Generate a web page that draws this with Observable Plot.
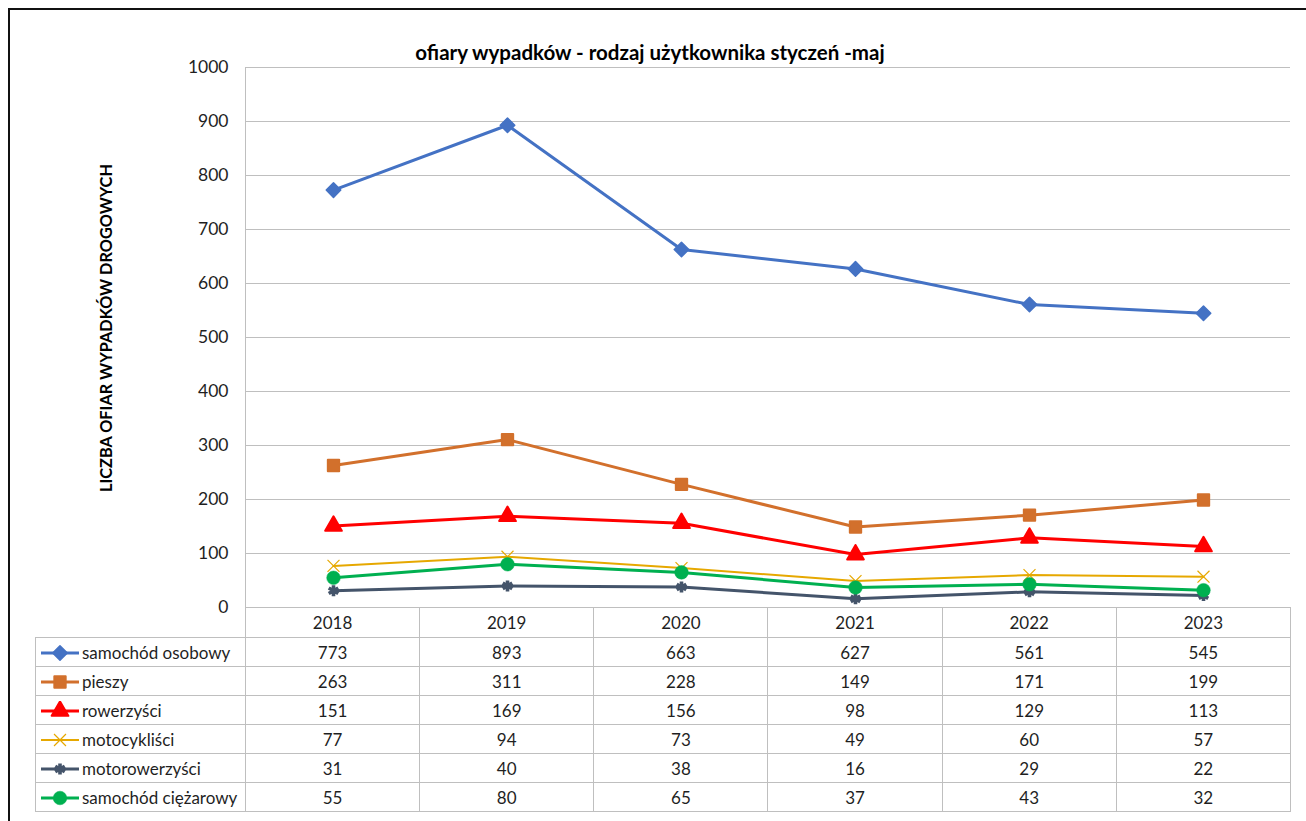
<!DOCTYPE html>
<html>
<head>
<meta charset="utf-8">
<script src="https://cdn.jsdelivr.net/npm/d3@7"></script>
<script src="https://cdn.jsdelivr.net/npm/@observablehq/plot@0.6"></script>
<style>
  html, body { margin: 0; padding: 0; background: #fff; }
  #wrap { position: relative; width: 1306px; height: 821px; overflow: hidden; background: #fff; font-family: Lato, "Open Sans", sans-serif; color: #262626; }
  #frame { position: absolute; left: 8px; top: 8px; width: 1400px; height: 900px; border-left: 2px solid #111; border-top: 2px solid #111; }
  #title { position: absolute; left: 0; width: 1300px; top: 40px; text-align: center; font-weight: bold; font-size: 20.5px; line-height: 24px; color: #000; }
  #ylabel { position: absolute; left: 105px; top: 328px; transform: translate(-50%, -50%) rotate(-90deg); white-space: nowrap; font-weight: bold; font-size: 16.3px; color: #000; }
  #chart { position: absolute; left: 0; top: 0; }
  #vaxis { position: absolute; left: 245px; top: 67px; width: 1px; height: 540px; background: #bfbfbf; }
  #tbl { position: absolute; left: 35px; top: 607px; border-collapse: collapse; table-layout: fixed; font-size: 17px; color: #1f1f1f; }
  #tbl td { border: 1px solid #bfbfbf; padding: 0; text-align: center; height: 28px; white-space: nowrap; }
  #tbl tr.head td { height: 29px; }
  #tbl tr.head td.corner { border-top: none; border-left: none; }
  #tbl td.leg { text-align: left; }
  #tbl td.leg svg { vertical-align: middle; }
  #tbl td.leg span { vertical-align: middle; }
</style>
</head>
<body>
<div id="wrap">
  <div id="frame"></div>
  <div id="chart"></div>
  <div id="vaxis"></div>
  <div id="title"></div>
  <div id="ylabel"></div>
  <table id="tbl"></table>
</div>
<script>
// ---- data ----
const titleText = "ofiary wypadków - rodzaj użytkownika styczeń -maj";
const yLabelText = "LICZBA OFIAR WYPADKÓW DROGOWYCH";
const years = ["2018", "2019", "2020", "2021", "2022", "2023"];
const seriesNames = ["samochód osobowy", "pieszy", "rowerzyści", "motocykliści", "motorowerzyści", "samochód ciężarowy"];
const samochodOsobowy = [773, 893, 663, 627, 561, 545];
const pieszy = [263, 311, 228, 149, 171, 199];
const rowerzysci = [151, 169, 156, 98, 129, 113];
const motocyklisci = [77, 94, 73, 49, 60, 57];
const motorowerzysci = [31, 40, 38, 16, 29, 22];
const samochodCiezarowy = [55, 80, 65, 37, 43, 32];
const yTicks = [0, 100, 200, 300, 400, 500, 600, 700, 800, 900, 1000];

// ---- styles per series ----
const seriesValues = [samochodOsobowy, pieszy, rowerzysci, motocyklisci, motorowerzysci, samochodCiezarowy];
const colors = ["#4472C4", "#D2702C", "#FF0000", "#E6A800", "#44546A", "#00B050"];
const symbols = ["square", "square", "triangle", "times", "asterisk", "circle"];
const rotations = [45, 0, 0, 0, 0, 0];
const filled = [true, true, true, false, false, true];
const radii = [5.8, 6.4, 6.2, 5.5, 5.2, 6.8];
const lineWidths = [3, 3, 3, 2, 3, 3];
const dotStrokeWidths = [1.5, 2, 2, 1.2, 3.6, 0.5];

document.getElementById("title").textContent = titleText;
document.getElementById("ylabel").textContent = yLabelText;

const rows = [];
seriesNames.forEach((s, i) => years.forEach((y, j) => rows.push({series: s, year: y, value: seriesValues[i][j], idx: i})));

const marks = [
  Plot.gridY(yTicks, {stroke: "#bfbfbf", strokeOpacity: 1, strokeWidth: 1}),
  Plot.axisY(yTicks, {tickSize: 0, tickPadding: 17, fontSize: 17.5, label: null, fill: "#1f1f1f", tickFormat: d => String(d)})
];
seriesNames.forEach((s, i) => {
  const d = rows.filter(r => r.idx === i);
  marks.push(Plot.line(d, {x: "year", y: "value", stroke: colors[i], strokeWidth: lineWidths[i], strokeLinejoin: "round"}));
  marks.push(Plot.dot(d, {
    x: "year", y: "value", symbol: symbols[i], rotate: rotations[i], r: radii[i],
    fill: filled[i] ? colors[i] : "none", stroke: colors[i], strokeWidth: dotStrokeWidths[i], strokeLinejoin: "round"
  }));
});

const chart = Plot.plot({
  width: 1306,
  height: 620,
  marginLeft: 245,
  marginRight: 16,
  marginTop: 67,
  marginBottom: 13,
  x: {type: "point", domain: years, padding: 0.5, axis: null},
  y: {domain: [0, 1000], axis: null},
  style: {fontFamily: "Lato, 'Open Sans', sans-serif", fontSize: "16px", background: "transparent", overflow: "visible"},
  marks
});
document.getElementById("chart").appendChild(chart);

// ---- data table ----
const tbl = document.getElementById("tbl");
const colW = (1290 - 245) / years.length;
const cg = document.createElement("colgroup");
const c0 = document.createElement("col"); c0.style.width = "210px"; cg.appendChild(c0);
years.forEach(() => { const c = document.createElement("col"); c.style.width = colW + "px"; cg.appendChild(c); });
tbl.appendChild(cg);
tbl.style.width = (210 + colW * years.length) + "px";

const head = document.createElement("tr");
head.className = "head";
const corner = document.createElement("td"); corner.className = "corner"; head.appendChild(corner);
years.forEach(y => { const td = document.createElement("td"); td.textContent = y; head.appendChild(td); });
tbl.appendChild(head);

const d3Sym = {diamond: d3.symbolDiamond, square: d3.symbolSquare, triangle: d3.symbolTriangle, times: d3.symbolTimes, asterisk: d3.symbolAsterisk, circle: d3.symbolCircle};
seriesNames.forEach((s, i) => {
  const tr = document.createElement("tr");
  const td = document.createElement("td"); td.className = "leg";
  const svg = d3.create("svg").attr("width", 46).attr("height", 20);
  svg.append("line").attr("x1", 5).attr("x2", 43).attr("y1", 10).attr("y2", 10).attr("stroke", colors[i]).attr("stroke-width", lineWidths[i]);
  const p = d3.symbol(d3Sym[symbols[i]], Math.PI * radii[i] * radii[i])();
  svg.append("path").attr("d", p).attr("transform", `translate(24,10) rotate(${rotations[i]})`)
    .attr("fill", filled[i] ? colors[i] : "none").attr("stroke", colors[i])
    .attr("stroke-width", dotStrokeWidths[i]).attr("stroke-linejoin", "round");
  td.appendChild(svg.node());
  const sp = document.createElement("span"); sp.textContent = s; td.appendChild(sp);
  tr.appendChild(td);
  seriesValues[i].forEach(v => { const c = document.createElement("td"); c.textContent = v; tr.appendChild(c); });
  tbl.appendChild(tr);
});
</script>
</body>
</html>
